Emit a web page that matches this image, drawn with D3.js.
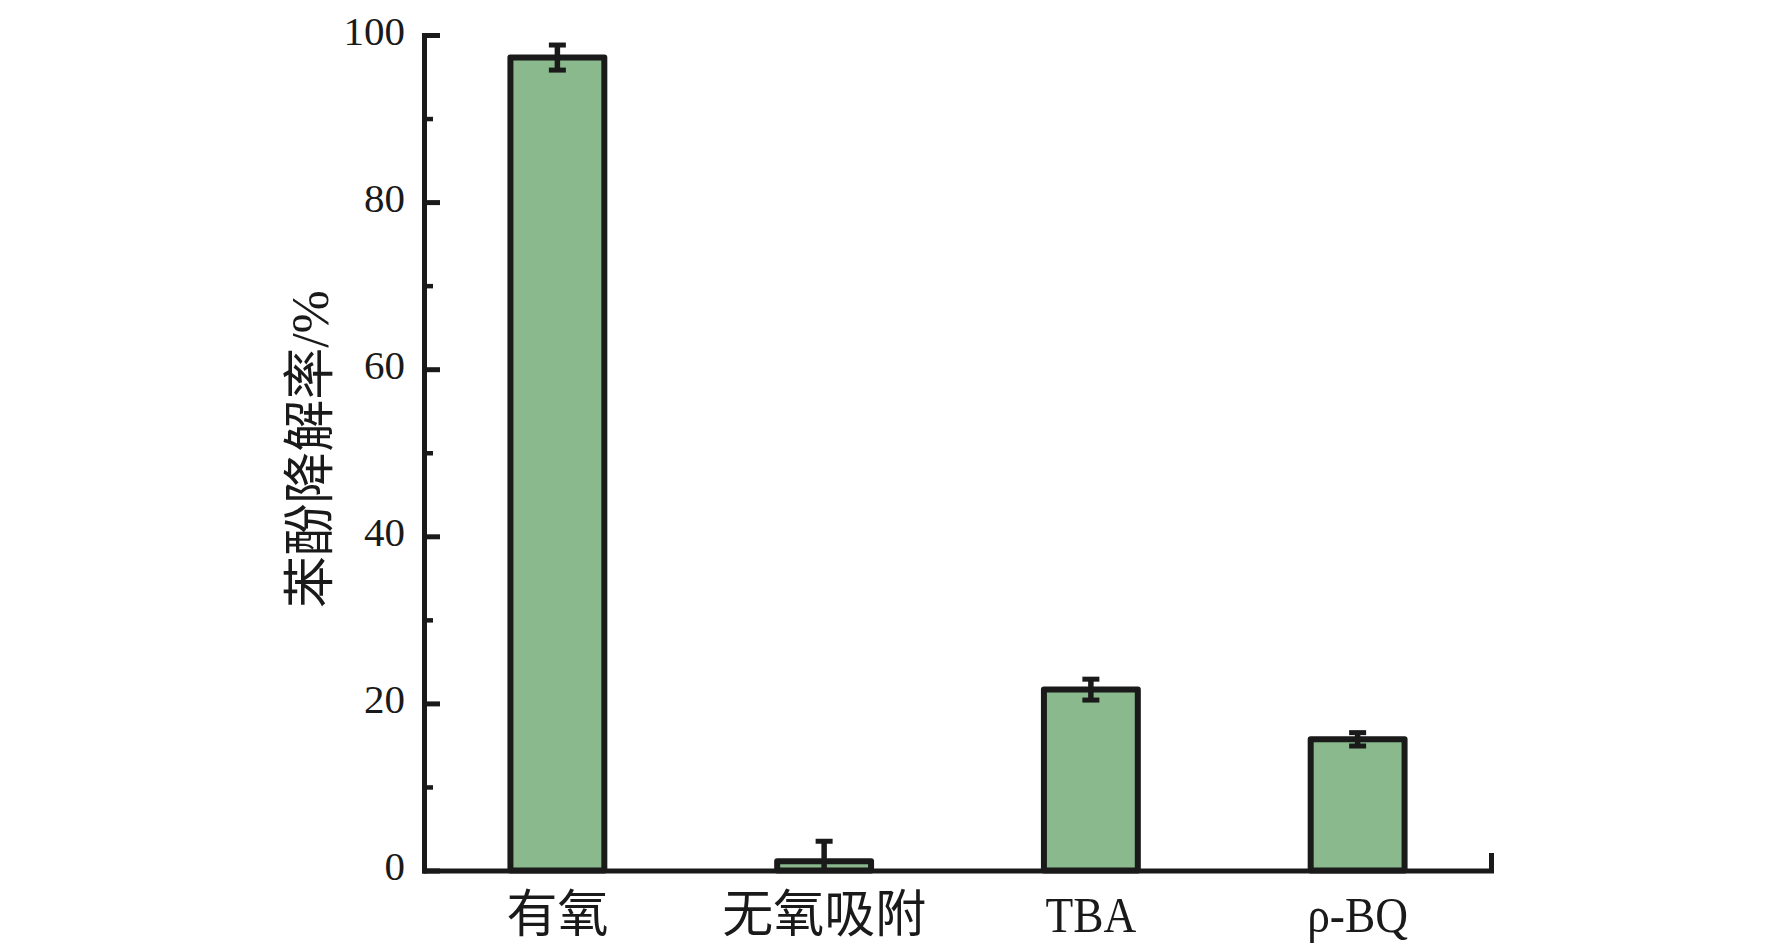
<!DOCTYPE html>
<html>
<head>
<meta charset="utf-8">
<script src="https://cdn.jsdelivr.net/npm/d3@7"></script>
<style>
  html, body { margin: 0; padding: 0; background: #fff; }
  svg { display: block; }
</style>
</head>
<body>
<svg id="chart" width="1772" height="952"></svg>
<script>
// ---- data ----
const categories = ["有氧", "无氧吸附", "TBA", "ρ-BQ"];
const values = [97.3, 1.1, 21.65, 15.7];
const errors = [1.5, 2.4, 1.25, 0.8];
const yMajorTicks = [0, 20, 40, 60, 80, 100];
const yMinorTicks = [10, 30, 50, 70, 90];
const yTitle = "苯酚降解率/%";

(function () {
// ---- layout ----
const svg = d3.select("#chart");
const plotLeft = 424, plotRight = 1491, plotTop = 35, plotBottom = 870.5;
const ink = "#1a1a1a";
const fill = "#89b98d";
const serif = "'Liberation Serif', 'Times New Roman', 'Noto Sans CJK SC', serif";

const x = d3.scaleBand().domain(categories).range([plotLeft, plotRight])
  .paddingInner(0.648).paddingOuter(0.324);
const y = d3.scaleLinear().domain([0, 100]).range([plotBottom, plotTop]);

// clip for error bars (nothing below zero)
svg.append("defs").append("clipPath").attr("id", "plotclip")
  .append("rect").attr("x", plotLeft).attr("y", 0).attr("width", plotRight - plotLeft).attr("height", plotBottom);

// bars
svg.append("g").selectAll("rect").data(categories).join("rect")
  .attr("x", d => x(d))
  .attr("y", (d, i) => y(values[i]))
  .attr("width", x.bandwidth())
  .attr("height", (d, i) => y(0) - y(values[i]))
  .attr("fill", fill)
  .attr("stroke", ink)
  .attr("stroke-width", 6)
  .attr("stroke-linejoin", "round");

// error bars
const eg = svg.append("g").attr("clip-path", "url(#plotclip)")
  .attr("stroke", ink).attr("fill", "none");
categories.forEach((c, i) => {
  const cx = x(c) + x.bandwidth() / 2;
  const hi = y(values[i] + errors[i]);
  const lo = y(values[i] - errors[i]);
  eg.append("line").attr("x1", cx).attr("x2", cx).attr("y1", hi).attr("y2", lo)
    .attr("stroke-width", 5.5);
  [hi, lo].forEach(yy => {
    eg.append("line").attr("x1", cx - 8.5).attr("x2", cx + 8.5).attr("y1", yy).attr("y2", yy)
      .attr("stroke-width", 5);
  });
});

// y axis minor ticks
const yMinor = svg.append("g").attr("transform", `translate(${plotLeft},0)`)
  .call(d3.axisLeft(y).tickValues(yMinorTicks).tickSize(-9).tickFormat(""));
yMinor.select(".domain").remove();
yMinor.selectAll(".tick line").attr("stroke", ink).attr("stroke-width", 4.5);

// y axis major
const yAxis = svg.append("g").attr("transform", `translate(${plotLeft},0)`)
  .call(d3.axisLeft(y).tickValues(yMajorTicks).tickSizeInner(-16).tickSizeOuter(0).tickPadding(19));
yAxis.select(".domain").attr("stroke", ink).attr("stroke-width", 5).attr("stroke-linecap", "square");
yAxis.selectAll(".tick line").attr("stroke", ink).attr("stroke-width", 5);
yAxis.selectAll(".tick text")
  .attr("font-family", serif).attr("font-size", 41).attr("fill", ink)
  .attr("x", -19).attr("dy", null).attr("y", 9);

// x axis
const xAxis = svg.append("g").attr("transform", `translate(0,${plotBottom})`)
  .call(d3.axisBottom(x).tickSizeInner(0).tickSizeOuter(-15).tickPadding(0));
xAxis.select(".domain").attr("stroke", ink).attr("stroke-width", 5).attr("stroke-linecap", "square");
xAxis.selectAll(".tick text")
  .attr("font-family", serif).attr("font-size", 51).attr("fill", ink)
  .attr("dy", null).attr("y", 61.5)
  .attr("transform", d => /[\u4e00-\u9fff]/.test(d) ? null : "scale(0.89,1)");

// y title
svg.append("text")
  .attr("transform", "translate(328,449) rotate(-90)")
  .attr("text-anchor", "middle")
  .attr("font-family", serif).attr("font-size", 52).attr("fill", ink)
  .text(yTitle);
})();
</script>
</body>
</html>
